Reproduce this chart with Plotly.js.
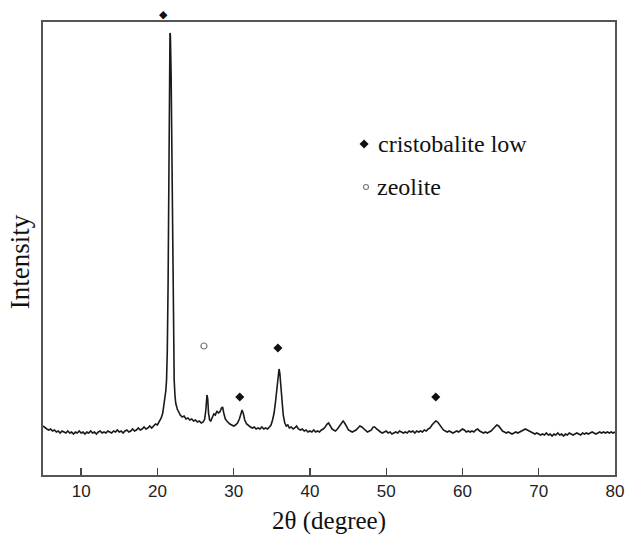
<!DOCTYPE html>
<html>
<head>
<meta charset="utf-8">
<script src="https://cdn.plot.ly/plotly-3.0.1.min.js"></script>
<style>html,body{margin:0;padding:0;background:#fff;}#chart{width:626px;height:537px;}</style>
</head>
<body>
<div id="chart"></div>
<script>
// XRD pattern (2θ in degrees, intensity in arbitrary units)
const twoTheta = [
5.00,5.25,5.50,5.75,6.00,6.25,6.50,6.75,7.00,7.25,7.50,7.75,8.00,8.25,8.50,8.75,9.00,9.25,9.50,9.75,
10.00,10.25,10.50,10.75,11.00,11.25,11.50,11.75,12.00,12.25,12.50,12.75,13.00,13.25,13.50,13.75,14.00,14.25,14.50,14.75,
15.00,15.25,15.50,15.75,16.00,16.25,16.50,16.75,17.00,17.25,17.50,17.75,18.00,18.25,18.50,18.75,19.00,19.25,19.50,19.75,
20.00,20.25,20.50,20.70,20.90,21.00,21.10,21.20,21.30,21.40,21.50,21.60,21.65,21.70,21.80,21.90,22.00,22.10,22.20,22.30,
22.40,22.60,22.80,23.00,23.25,23.50,23.75,24.00,24.25,24.50,24.75,25.00,25.25,25.50,25.75,26.00,26.20,26.35,26.50,26.60,
26.70,26.85,27.00,27.20,27.40,27.60,27.80,28.00,28.20,28.40,28.55,28.70,28.90,29.10,29.30,29.50,29.75,30.00,30.25,30.50,
30.75,30.95,31.10,31.25,31.45,31.70,31.95,32.20,32.45,32.70,32.95,33.20,33.45,33.70,33.95,34.20,34.45,34.70,34.90,35.10,
35.30,35.50,35.70,35.85,35.95,36.05,36.20,36.35,36.50,36.70,36.90,37.10,37.30,37.55,37.80,38.00,38.25,38.50,38.75,39.00,
39.25,39.50,39.75,40.00,40.25,40.50,40.75,41.00,41.25,41.50,41.75,42.00,42.25,42.45,42.65,42.90,43.10,43.35,43.60,43.85,
44.10,44.35,44.55,44.80,45.05,45.30,45.55,45.80,46.05,46.30,46.55,46.80,47.05,47.30,47.55,47.80,48.05,48.30,48.50,48.75,
49.00,49.25,49.50,49.75,50.00,50.25,50.50,50.75,51.00,51.25,51.50,51.75,52.00,52.25,52.50,52.75,53.00,53.25,53.50,53.75,
54.00,54.25,54.50,54.75,55.00,55.25,55.50,55.75,56.00,56.25,56.50,56.75,57.00,57.25,57.50,57.75,58.00,58.25,58.50,58.75,
59.00,59.25,59.50,59.75,60.00,60.25,60.50,60.75,61.00,61.25,61.50,61.75,62.00,62.25,62.50,62.75,63.00,63.25,63.50,63.75,
64.00,64.25,64.50,64.75,65.00,65.25,65.50,65.75,66.00,66.25,66.50,66.75,67.00,67.25,67.50,67.75,68.00,68.25,68.50,68.75,
69.00,69.25,69.50,69.75,70.00,70.25,70.50,70.75,71.00,71.25,71.50,71.75,72.00,72.25,72.50,72.75,73.00,73.25,73.50,73.75,
74.00,74.25,74.50,74.75,75.00,75.25,75.50,75.75,76.00,76.25,76.50,76.75,77.00,77.25,77.50,77.75,78.00,78.25,78.50,78.75,
79.00,79.25,79.50,79.75,80.00
];
const intensity = [
49,47,46,45,46,44,45,43,44,42,44,43,42,44,42,43,41,43,42,44,
42,43,41,43,42,44,42,43,41,43,44,42,43,42,44,43,42,44,43,45,
43,44,42,44,45,43,44,46,44,45,47,45,46,48,46,47,49,47,49,51,
50,53,57,62,72,78,84,95,125,190,300,410,442,440,400,300,200,130,95,80,
72,66,62,60,58,59,56,57,55,56,54,55,53,54,52,53,56,65,80,76,
62,55,54,58,61,60,64,62,63,67,68,62,56,54,52,51,50,49,50,52,
56,62,65,62,55,51,49,48,47,48,46,47,46,48,46,47,46,48,50,55,
62,74,92,103,106,102,90,72,60,52,49,50,47,48,46,47,49,46,45,46,
44,45,43,44,43,45,43,44,43,45,46,48,51,52,49,46,45,44,46,49,
52,54,52,48,45,44,43,44,45,47,49,48,46,44,43,44,45,48,48,46,
44,43,42,43,44,42,43,41,42,43,42,44,43,42,43,42,44,43,44,42,
44,43,44,43,45,44,46,47,50,52,54,53,50,47,45,44,43,44,43,42,
43,44,43,45,46,45,43,44,43,44,43,45,46,44,43,42,43,42,43,44,
46,48,50,49,46,44,43,42,43,42,41,42,43,42,43,44,45,46,45,44,
43,42,41,42,41,40,41,40,42,40,41,39,41,40,42,40,41,39,41,40,
42,41,40,41,42,41,40,42,41,42,41,42,43,42,41,42,43,42,43,42,
43,42,43,42,43
];

// Phase markers above peaks
const cristobaliteX = [20.85, 30.8, 35.8, 56.5];
const cristobaliteY = [460, 78, 127, 78];
const zeoliteX = [26.1];
const zeoliteY = [129];

// Key entries
const keyLabels = ['cristobalite low', 'zeolite'];
const keyX = [47.1, 47.35];
const keyY = [331, 288];
const keyTextX = [48.6, 48.5];

const xTicks = [10, 20, 30, 40, 50, 60, 70, 80];
const yMin = 0, yMax = 453;

const serif = '"Liberation Serif", "Times New Roman", serif';
const sans = '"Liberation Sans", Arial, sans-serif';

// split cristobalite markers: inside the frame vs above it (drawn as glyph annotations)
const inX = [], inY = [], outX = [], outY = [];
cristobaliteX.forEach((x, i) => {
  if (cristobaliteY[i] > yMax) { outX.push(x); outY.push(cristobaliteY[i]); }
  else { inX.push(x); inY.push(cristobaliteY[i]); }
});

const traces = [
  {
    x: twoTheta, y: intensity, type: 'scatter', mode: 'lines',
    line: {color: '#1a1a1a', width: 1.6}, hoverinfo: 'skip'
  },
  {
    x: inX, y: inY, type: 'scatter', mode: 'markers',
    marker: {symbol: 'diamond', size: 7, color: '#111'}
  },
  {
    x: zeoliteX, y: zeoliteY, type: 'scatter', mode: 'markers',
    marker: {symbol: 'circle-open', size: 6, color: '#777', line: {width: 1.2}}
  },
  {
    x: [keyX[0]], y: [keyY[0]], type: 'scatter', mode: 'markers',
    marker: {symbol: 'diamond', size: 7, color: '#111'}
  },
  {
    x: [keyX[1]], y: [keyY[1]], type: 'scatter', mode: 'markers',
    marker: {symbol: 'circle-open', size: 5, color: '#777', line: {width: 1.1}}
  }
];

const annotations = keyLabels.map((t, i) => ({
  x: keyTextX[i], y: keyY[i], xref: 'x', yref: 'y', text: t, showarrow: false,
  xanchor: 'left', yanchor: 'middle',
  font: {family: serif, size: 24, color: '#111'}
}));
// markers above the frame: y converted to paper fraction through the axis range
outX.forEach((x, i) => annotations.push({
  x: x, y: (outY[i] - yMin) / (yMax - yMin), xref: 'x', yref: 'paper', text: '◆', showarrow: false,
  xanchor: 'center', yanchor: 'middle',
  font: {family: '"DejaVu Sans", sans-serif', size: 11, color: '#111'}
}));
annotations.push({
  x: -0.040, y: 0.47, xref: 'paper', yref: 'paper', text: 'Intensity', showarrow: false,
  textangle: -90, xanchor: 'center', yanchor: 'middle',
  font: {family: serif, size: 27, color: '#111'}
});
annotations.push({
  x: 0.5, y: -0.102, xref: 'paper', yref: 'paper', text: '2θ (degree)', showarrow: false,
  xanchor: 'center', yanchor: 'middle',
  font: {family: serif, size: 25, color: '#111'}
});

const layout = {
  width: 626, height: 537,
  margin: {l: 43, r: 11, t: 22, b: 62},
  paper_bgcolor: '#fff', plot_bgcolor: '#fff',
  showlegend: false,
  xaxis: {
    range: [5, 80], tickvals: xTicks, ticktext: xTicks.map(String),
    ticks: 'inside', ticklen: 7, tickwidth: 1.3, tickcolor: '#444',
    showline: true, mirror: true, linecolor: '#555', linewidth: 1.6,
    showgrid: false, zeroline: false,
    tickfont: {family: sans, size: 17, color: '#222'}
  },
  yaxis: {
    range: [yMin, yMax], showticklabels: false, ticks: '',
    showline: true, mirror: true, linecolor: '#555', linewidth: 1.6,
    showgrid: false, zeroline: false
  },
  annotations: annotations
};

Plotly.newPlot('chart', traces, layout, {displayModeBar: false, staticPlot: true});
</script>
</body>
</html>
